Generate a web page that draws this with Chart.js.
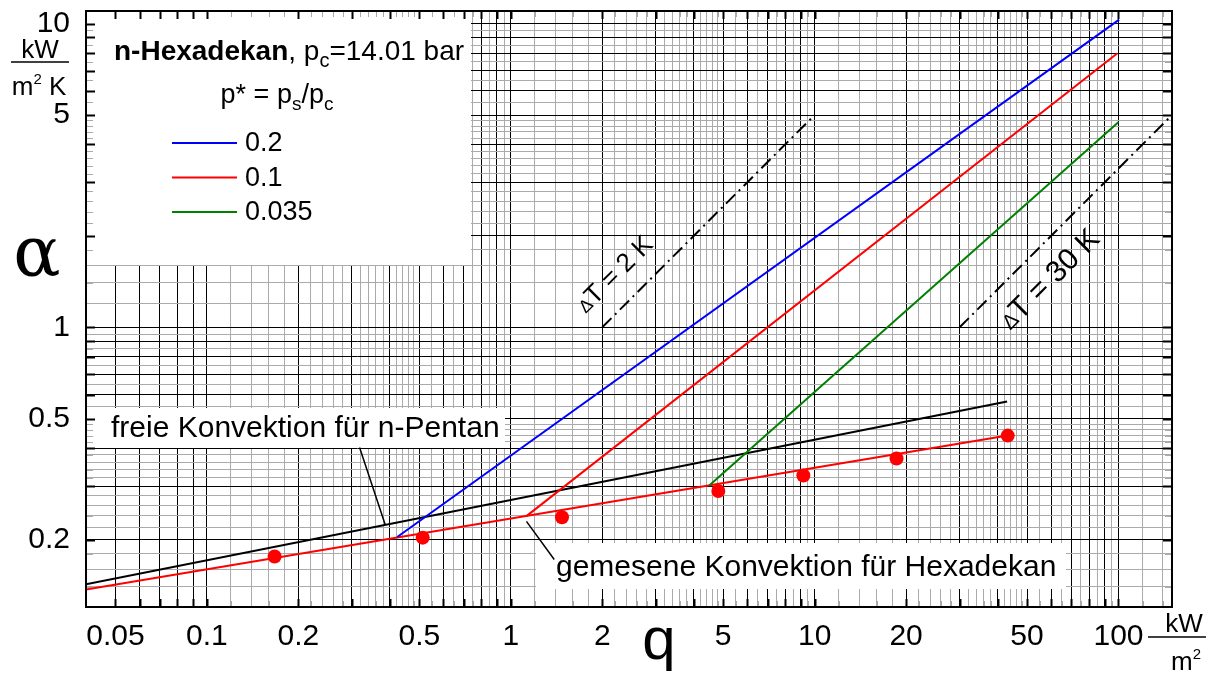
<!DOCTYPE html>
<html>
<head>
<meta charset="utf-8">
<script src="https://cdn.jsdelivr.net/npm/chart.js@4.4.0/dist/chart.umd.min.js"></script>
<style>
  html, body { margin: 0; padding: 0; background: #fff; }
</style>
</head>
<body>
<canvas id="alpha" width="1208" height="677"></canvas>
<script>
// heat flux q in kW/m², heat transfer coefficient alpha in kW/(m² K)
const pStar = ['0.2', '0.1', '0.035'];
const seriesColors = ['#0000ff', '#ff0000', '#008000'];

const qBoil02 = [0.423, 100.5];
const aBoil02 = [0.204, 10.3];
const qBoil01 = [1.126, 99.2];
const aBoil01 = [0.239, 7.99];
const qBoil0035 = [4.50, 99.9];
const aBoil0035 = [0.3015, 4.73];

const qPentan = [0.04, 43.0];
const aPentan = [0.1425, 0.570];

const qHexConv = [0.04, 43.2];
const aHexConv = [0.137, 0.440];
const qMeasured = [0.167, 0.513, 1.474, 4.82, 9.18, 18.6, 43.2];
const aMeasured = [0.176, 0.203, 0.237, 0.289, 0.325, 0.370, 0.440];

const qDT2 = [2, 10];
const aDT2 = [1, 5];
const qDT30 = [30, 150];
const aDT30 = [1, 5];

const xTickVals = [0.05, 0.1, 0.2, 0.5, 1, 2, 5, 10, 20, 50, 100];
const xTickText = ['0.05', '0.1', '0.2', '0.5', '1', '2', '5', '10', '20', '50', '100'];
const yTickVals = [0.2, 0.5, 1, 5, 10];
const yTickText = ['0.2', '0.5', '1', '5', '10'];

const SANS = '"Liberation Sans", Arial, sans-serif';
const fine = [1.2, 1.4, 1.6, 1.8, 2.2, 2.4, 2.6, 2.8, 3.2, 3.4, 3.6, 3.8,
              4.2, 4.4, 4.6, 4.8, 5.5, 6.5, 7.5, 8.5, 9.5];

// log paper: heavy lines at 1..9 per decade, light subdivisions in between
function paperLines(min, max, fineFrom) {
  const out = [];
  const dec = (m, e) => e < 0 ? m / Math.pow(10, -e) : m * Math.pow(10, e);
  for (let e = -3; e <= 3; e++) {
    for (let m = 1; m <= 9; m++) out.push({ value: dec(m, e), heavy: true });
    if (dec(1, e) >= fineFrom) fine.forEach(m => out.push({ value: dec(m, e), heavy: false }));
  }
  return out.filter(t => t.value > min * 1.001 && t.value < max * 0.999)
            .sort((a, b) => a.value - b.value);
}

function labelFor(vals, text, v) {
  const i = vals.findIndex(t => Math.abs(Math.log10(t) - Math.log10(v)) < 1e-6);
  return i < 0 ? '' : text[i];
}

const pts = (xs, ys) => xs.map((x, i) => ({ x, y: ys[i] }));

function drawRuns(ctx, x, y, runs, align, baseline) {
  let w = 0;
  runs.forEach(r => { ctx.font = r[1]; w += ctx.measureText(r[0]).width; });
  let cx = align === 'center' ? x - w / 2 : x;
  ctx.textAlign = 'left';
  ctx.textBaseline = baseline || 'alphabetic';
  runs.forEach(r => {
    ctx.font = r[1];
    ctx.fillText(r[0], cx, y + (r[2] || 0));
    cx += ctx.measureText(r[0]).width;
  });
}

function line(ctx, x1, y1, x2, y2) {
  ctx.beginPath(); ctx.moveTo(x1, y1); ctx.lineTo(x2, y2); ctx.stroke();
}

const paper = {
  id: 'paper',
  beforeDatasetsDraw(chart) {
    const { ctx, chartArea: a, scales: { x, y } } = chart;
    ctx.save();
    ctx.fillStyle = '#fff';
    ctx.fillRect(a.left, a.top, 471 - a.left, 265 - a.top);
    ctx.fillRect(a.left, 408, 505 - a.left, 40);
    ctx.fillRect(536, 543, 530, 46);
    // short inward ticks along the frame
    x.ticks.forEach(t => {
      const p = Math.round(x.getPixelForValue(t.value)) + 0.5;
      const L = t.heavy ? 8 : 6;
      ctx.strokeStyle = t.heavy ? '#000' : '#aaa';
      ctx.lineWidth = t.heavy ? 2 : 1;
      line(ctx, p, a.top, p, a.top + L);
      line(ctx, p, a.bottom, p, a.bottom - L);
    });
    y.ticks.forEach(t => {
      const p = Math.round(y.getPixelForValue(t.value)) + 0.5;
      const L = t.heavy ? 9 : 7;
      ctx.strokeStyle = t.heavy ? '#000' : '#aaa';
      ctx.lineWidth = t.heavy ? 2 : 1;
      line(ctx, a.left, p, a.left + L, p);
      line(ctx, a.right, p, a.right - L, p);
    });
    ctx.restore();
  },
  afterDatasetsDraw(chart) {
    const { ctx, chartArea: a } = chart;
    ctx.save();
    ctx.strokeStyle = '#000';
    ctx.lineWidth = 2;
    ctx.strokeRect(a.left, a.top, a.right - a.left, a.bottom - a.top);
    ctx.restore();
  },
  afterDraw(chart) {
    const { ctx, scales: { x, y } } = chart;
    const P = (q, al) => [x.getPixelForValue(q), y.getPixelForValue(al)];
    ctx.save();
    ctx.fillStyle = '#000';
    ctx.strokeStyle = '#000';

    // legend panel
    drawRuns(ctx, 114, 60, [
      ['n-Hexadekan', 'bold 28px ' + SANS],
      [', p', '28px ' + SANS],
      ['c', '20px ' + SANS, 7],
      ['=14.01 bar', '28px ' + SANS]
    ]);
    drawRuns(ctx, 277, 103, [
      ['p* = p', '27px ' + SANS],
      ['s', '19px ' + SANS, 7],
      ['/p', '27px ' + SANS],
      ['c', '19px ' + SANS, 7]
    ], 'center');
    chart.data.datasets.slice(0, 3).forEach((ds, i) => {
      const ly = 143 + i * 34.5;
      ctx.strokeStyle = ds.borderColor;
      ctx.lineWidth = 2;
      line(ctx, 172, ly, 237, ly);
      drawRuns(ctx, 245, ly + 1, [[ds.label, '27px ' + SANS]], 'left', 'middle');
    });

    // annotations with leader lines
    ctx.strokeStyle = '#000';
    ctx.lineWidth = 1.5;
    let p1 = P(0.318, 0.402), p2 = P(0.386, 0.2244);
    line(ctx, p1[0], p1[1], p2[0], p2[1]);
    drawRuns(ctx, 111, 437, [['freie Konvektion für n-Pentan', '30px ' + SANS]]);
    p1 = P(1.126, 0.2296); p2 = P(1.39, 0.172);
    line(ctx, p1[0], p1[1], p2[0], p2[1]);
    drawRuns(ctx, 556, 576, [['gemesene Konvektion für Hexadekan', '30px ' + SANS]]);

    // temperature-difference labels, parallel to the dash-dot lines
    const a0 = P(qDT2[0], aDT2[0]), a1 = P(qDT2[1], aDT2[1]);
    const ang = Math.atan2(a1[1] - a0[1], a1[0] - a0[0]);
    [[615, 275, 26, '2'], [1050, 280, 30, '30']].forEach(([cx, cy, fs, v]) => {
      ctx.save();
      ctx.translate(cx, cy);
      ctx.rotate(ang);
      drawRuns(ctx, 0, 0, [
        ['Δ', Math.round(fs * 0.7) + 'px ' + SANS, 2],
        ['T = ' + v + ' K', fs + 'px ' + SANS]
      ], 'center', 'middle');
      ctx.restore();
    });

    // axis titles and units
    ctx.font = '70px "DejaVu Serif", serif';
    ctx.textAlign = 'center';
    ctx.textBaseline = 'alphabetic';
    ctx.fillText('α', 37, 275);
    ctx.font = '60px ' + SANS;
    ctx.fillText('q', 659, 659);

    ctx.lineWidth = 1.5;
    drawRuns(ctx, 40, 58, [['kW', '26px ' + SANS]], 'center');
    line(ctx, 11, 62, 69, 62);
    drawRuns(ctx, 39, 95, [
      ['m', '26px ' + SANS], ['2', '15px ' + SANS, -11], [' K', '26px ' + SANS]
    ], 'center');

    drawRuns(ctx, 1184, 632, [['kW', '26px ' + SANS]], 'center');
    line(ctx, 1148, 637, 1206, 637);
    drawRuns(ctx, 1186, 670, [
      ['m', '26px ' + SANS], ['2', '15px ' + SANS, -11]
    ], 'center');
    ctx.restore();
  }
};

Chart.defaults.font.family = SANS;
Chart.defaults.color = '#000';

new Chart(document.getElementById('alpha').getContext('2d'), {
  type: 'scatter',
  data: {
    datasets: [
      { label: pStar[0], data: pts(qBoil02, aBoil02), showLine: true,
        borderColor: seriesColors[0], borderWidth: 2, pointRadius: 0, order: 2 },
      { label: pStar[1], data: pts(qBoil01, aBoil01), showLine: true,
        borderColor: seriesColors[1], borderWidth: 2, pointRadius: 0, order: 2 },
      { label: pStar[2], data: pts(qBoil0035, aBoil0035), showLine: true,
        borderColor: seriesColors[2], borderWidth: 2, pointRadius: 0, order: 2 },
      { label: 'freie Konvektion n-Pentan', data: pts(qPentan, aPentan), showLine: true,
        borderColor: '#000', borderWidth: 2, pointRadius: 0, order: 3 },
      { label: 'Konvektion Hexadekan', data: pts(qHexConv, aHexConv), showLine: true,
        borderColor: '#ff0000', borderWidth: 2, pointRadius: 0, order: 2 },
      { label: 'Messwerte', data: pts(qMeasured, aMeasured), showLine: false,
        backgroundColor: '#ff0000', borderWidth: 0, pointRadius: 7, order: 1 },
      { label: 'dT 2 K', data: pts(qDT2, aDT2), showLine: true, borderDash: [13, 5, 2, 5],
        borderColor: '#000', borderWidth: 2, pointRadius: 0, order: 4 },
      { label: 'dT 30 K', data: pts(qDT30, aDT30), showLine: true, borderDash: [13, 5, 2, 5],
        borderColor: '#000', borderWidth: 2, pointRadius: 0, order: 4 }
    ]
  },
  options: {
    responsive: false,
    animation: false,
    events: [],
    layout: { padding: { top: 11, right: 36, bottom: 0, left: 0 } },
    plugins: { legend: { display: false }, tooltip: { enabled: false } },
    scales: {
      x: {
        type: 'logarithmic', min: 0.04, max: 150,
        afterBuildTicks: s => { s.ticks = paperLines(0.04, 150, 0.1); },
        afterFit: s => { s.height = 70; s.paddingLeft = 0; s.paddingRight = 0; },
        border: { display: false },
        grid: {
          drawTicks: false,
          color: c => c.tick && c.tick.heavy ? '#000' : '#aaa',
          lineWidth: 1
        },
        ticks: {
          autoSkip: false, maxRotation: 0, padding: 12,
          font: { size: 30 },
          callback: v => labelFor(xTickVals, xTickText, v)
        }
      },
      y: {
        type: 'logarithmic', min: 0.12, max: 11,
        afterBuildTicks: s => { s.ticks = paperLines(0.12, 11, 0); },
        afterFit: s => { s.width = 86; s.paddingTop = 0; s.paddingBottom = 0; },
        border: { display: false },
        grid: {
          drawTicks: false,
          color: c => c.tick && c.tick.heavy ? '#000' : '#aaa',
          lineWidth: 1
        },
        ticks: {
          autoSkip: false, padding: 16,
          font: { size: 30 },
          callback: v => labelFor(yTickVals, yTickText, v)
        }
      }
    }
  },
  plugins: [paper]
});
</script>
</body>
</html>
